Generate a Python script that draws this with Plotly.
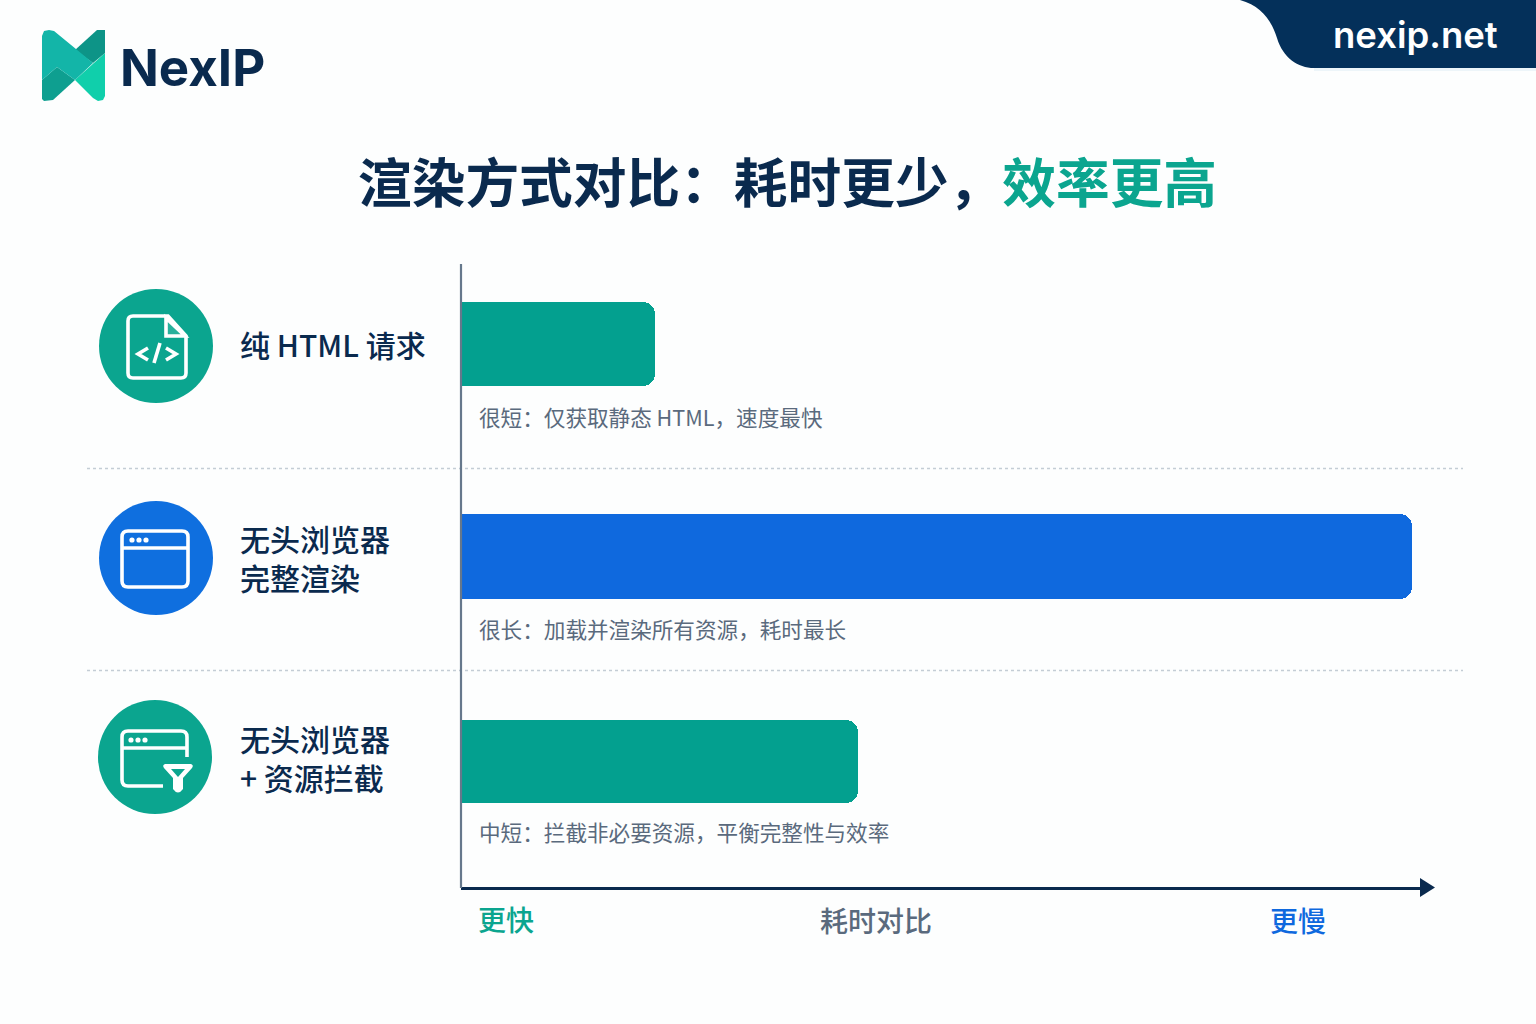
import plotly.graph_objects as go

# ---------- data ----------
COLON = "\uff1a"   # full-width colon
COMMA = "\uff0c"   # full-width comma
categories = ["纯 HTML 请求", "无头浏览器<br>完整渲染", "无头浏览器<br>+ 资源拦截"]
durations = [20.4, 100.0, 41.7]          # relative duration
notes = [f"很短{COLON}仅获取静态 HTML{COMMA}速度最快",
         f"很长{COLON}加载并渲染所有资源{COMMA}耗时最长",
         f"中短{COLON}拦截非必要资源{COMMA}平衡完整性与效率"]
axis_labels = ["更快", "耗时对比", "更慢"]
title_main = f"渲染方式对比{COLON}耗时更少{COMMA}"
title_accent = "效率更高"
brand = "NexIP"
site = "nexip.net"

# ---------- style ----------
W, H = 1536, 1024
NAVY = "#0A2A4E"
TEAL = "#03A08F"
BLUE = "#0F69DE"
GREY = "#5A6A7D"
CJK = "Noto Sans CJK SC"
bar_colors = [TEAL, BLUE, TEAL]
row_px = [(302, 386), (514, 599), (720, 803)]
label_y = [343.5, 557.5, 757.5]
note_y = [416, 628.5, 831]
X0, XEND, XFULL = 461, 1422, 1412


def px(x):
    return x / W


def py(y):
    return 1 - y / H


def path(points, close=True):
    s = "M" + " L".join(f"{px(x):.5f},{py(y):.5f}" for x, y in points)
    return s + (" Z" if close else "")


def rrect(x0, y0, x1, y1, r):
    p = lambda x, y: f"{px(x):.5f},{py(y):.5f}"
    return (f"M{p(x0+r,y0)} L{p(x1-r,y0)} Q{p(x1,y0)} {p(x1,y0+r)} L{p(x1,y1-r)} Q{p(x1,y1)} {p(x1-r,y1)} "
            f"L{p(x0+r,y1)} Q{p(x0,y1)} {p(x0,y1-r)} L{p(x0,y0+r)} Q{p(x0,y0)} {p(x0+r,y0)} Z")


shapes = []


def add_path(d, fill=None, line=None, width=0, layer="above", dash=None):
    ln = dict(width=width, color=line or "rgba(0,0,0,0)")
    if dash:
        ln["dash"] = dash
    shapes.append(dict(type="path", xref="paper", yref="paper", path=d, layer=layer,
                       fillcolor=fill or "rgba(0,0,0,0)", line=ln))


def circle(cx, cy, r, fill):
    shapes.append(dict(type="circle", xref="paper", yref="paper", x0=px(cx - r), x1=px(cx + r),
                       y0=py(cy + r), y1=py(cy - r), fillcolor=fill, line=dict(width=0)))


# logo
add_path(path([(42, 80), (57, 67), (75, 80), (53, 100), (44, 101), (42, 99)]), "#0E9F90")
add_path(path([(105, 53), (75, 80), (93, 98), (98, 101), (103, 100), (105, 96)]), "#10CFAB")
add_path(path([(105, 30), (97, 30), (75, 50), (93, 63), (105, 53)]), "#0D9487")
add_path(path([(42, 36), (44, 31), (49, 30), (54, 31), (93, 63), (75, 80), (57, 67), (42, 80)]), "#13B5A8")

# top-right tab
p = lambda x, y: f"{px(x):.5f},{py(y):.5f}"
add_path(f"M{p(1240,0)} C{p(1262,6)} {p(1272,22)} {p(1277,38)} C{p(1283,58)} {p(1298,68)} {p(1314,68)} "
         f"L{p(1536,68)} L{p(1536,0)} Z", "#04305A")
shapes.append(dict(type="rect", xref="paper", yref="paper", x0=px(1314), x1=1, y0=py(71), y1=py(68),
                   fillcolor="#EDF5F9", line=dict(width=0), layer="below"))

# separators and vertical axis
for y in (468.5, 670.5):
    shapes.append(dict(type="line", xref="paper", yref="paper", x0=px(87), x1=px(1463), y0=py(y), y1=py(y),
                       layer="below", line=dict(color="#C4CDD5", width=1.4, dash="dot")))
shapes.append(dict(type="line", xref="paper", yref="paper", x0=px(461), x1=px(461), y0=py(264), y1=py(888),
                   line=dict(color="#66788C", width=2.2)))
# axis arrow head
add_path(path([(1420, 878), (1435, 887.5), (1420, 897)]), NAVY)

# icon 1 : file with code
circle(156, 346, 57, "#0BA58F")
W_ICON = 3.6
add_path(f"M{p(168,316)} L{p(133,316)} Q{p(128,316)} {p(128,321)} L{p(128,373)} Q{p(128,378)} {p(133,378)} "
         f"L{p(181,378)} Q{p(186,378)} {p(186,373)} L{p(186,336)} Z", line="white", width=W_ICON)
add_path(path([(166, 318), (166, 336), (185, 336)]), "rgba(255,255,255,0.12)", "white", W_ICON)
add_path(path([(148, 348), (138, 354), (148, 360)], False), line="white", width=W_ICON)
add_path(path([(166, 348), (176, 354), (166, 360)], False), line="white", width=W_ICON)
add_path(path([(154, 363), (160, 343)], False), line="white", width=W_ICON)

# icon 2 : browser window
circle(156, 558, 57, "#0F6FDF")
add_path(rrect(122, 531, 188, 587, 6), line="white", width=W_ICON)
add_path(path([(122, 548), (188, 548)], False), line="white", width=W_ICON)
for x in (132, 139, 146):
    circle(x, 540, 2.6, "white")

# icon 3 : browser window with filter
circle(155, 757, 57, "#0BA58F")
add_path(f"M{p(187,757)} L{p(187,737)} Q{p(187,731)} {p(181,731)} L{p(128,731)} Q{p(122,731)} {p(122,737)} "
         f"L{p(122,780)} Q{p(122,786)} {p(128,786)} L{p(163,786)}", line="white", width=W_ICON)
add_path(path([(122, 748), (187, 748)], False), line="white", width=W_ICON)
for x in (131, 138, 145):
    circle(x, 740, 2.6, "white")
add_path(f"M{p(165,764)} L{p(191,764)} Q{p(194,765)} {p(192,768)} L{p(183,778)} L{p(183,789)} Q{p(178,796)} {p(173,789)} "
         f"L{p(173,778)} L{p(164,768)} Q{p(162,765)} {p(165,764)} Z", "white")
add_path(path([(171, 769), (185, 769), (178, 777)]), "#0BA58F")


# ---------- text ----------
def text(x, y, s, size, color, anchor="left", family=CJK, bold=False, weight=None):
    f = dict(size=size, color=color, family=family)
    if weight:
        f["weight"] = weight
    elif bold:
        f["weight"] = 700
    return dict(xref="paper", yref="paper", x=px(x), y=py(y), text=s, showarrow=False, xanchor=anchor,
                yanchor="middle", align="left", font=f, xshift=0, yshift=0)


annotations = [
    text(787.5, 179, f'{title_main}<span style="color:#0BA58F">{title_accent}</span>', 53.7, NAVY, "center", bold=True),
    text(118, 67, brand, 51, NAVY, family="Inter", bold=True),
    text(1415, 35, site, 36.5, "white", "center", family="Inter", weight=600),
    text(506, 919, axis_labels[0], 28, "#0BA58F", "center", weight=500),
    text(876, 920, axis_labels[1], 28, GREY, "center", weight=500),
    text(1298, 920, axis_labels[2], 28, BLUE, "center", weight=500),
]
for c, ly, n, ny in zip(categories, label_y, notes, note_y):
    annotations.append(text(238, ly, c, 30, NAVY, weight=500))
    annotations.append(text(476.5, ny, n, 21.6, GREY))

# ---------- figure ----------
fig = go.Figure()
layout_axes = {}
for i, (cat, val, col, (top, bottom)) in enumerate(zip(categories, durations, bar_colors, row_px)):
    suffix = "" if i == 0 else str(i + 1)
    fig.add_trace(go.Bar(x=[val], y=[cat], orientation="h", marker=dict(color=col, line=dict(width=0)),
                         xaxis="x", yaxis="y" + suffix, showlegend=False, hoverinfo="skip"))
    layout_axes["yaxis" + suffix] = dict(domain=[py(bottom), py(top)], type="category", visible=False,
                                         anchor="x", fixedrange=True)

fig.update_layout(
    width=W, height=H, margin=dict(l=0, r=0, t=0, b=0), autosize=False,
    paper_bgcolor="#FDFEFE", plot_bgcolor="rgba(0,0,0,0)",
    bargap=0, barcornerradius=12,
    xaxis=dict(domain=[px(X0), px(XEND)], range=[0, 100 * (XEND - X0) / (XFULL - X0)], anchor="free",
               position=py(887.5), showline=True, linecolor=NAVY, linewidth=3, showgrid=False, zeroline=False,
               showticklabels=False, ticks="", fixedrange=True),
    shapes=shapes, annotations=annotations, font=dict(family=CJK), **layout_axes,
)

fig.write_html("out.html", config=dict(displayModeBar=False),
               post_script="document.body.style.margin='0';document.body.style.overflow='hidden';")
